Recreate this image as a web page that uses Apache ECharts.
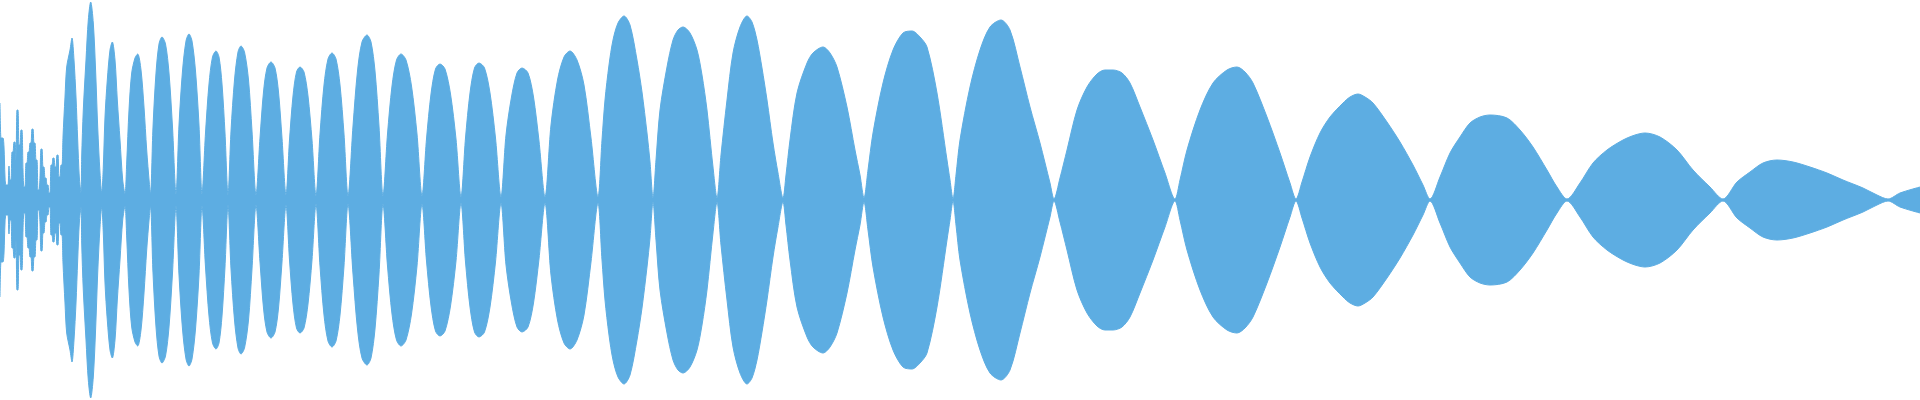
<!DOCTYPE html>
<html>
<head>
<meta charset="utf-8">
<script src="https://cdn.jsdelivr.net/npm/echarts@6/dist/echarts.min.js"></script>
<style>
  html, body { margin: 0; padding: 0; background: #ffffff; }
  #chart { width: 1920px; height: 400px; }
</style>
</head>
<body>
<div id="chart"></div>
<script>
// Waveform envelope: sample position and peak amplitude (symmetric about 0)
const onsetX = [0,1,2,3,4,5,6,7,8,9,10,11,12,13,14,15,16,17,18,19,20,21,22,23,24,25,26,27,28,29,30,31,32,33,34,35,36,37,38,39,40,41,42,43,44,45,46,47,48,49,50,51,52,53,54,55,56,57,58,59,60,61,62];
const onsetAmp = [97,62,62,62,53,23,15,15,15,34,20,20,48,48,58,58,40,90,90,55,55,70,70,30,13,13,37,37,48,48,57,57,71,71,57,57,40,40,10,10,23,51,51,33,33,22,22,15,15,7,7,35,35,42,42,33,33,45,45,23,23,35,35];

const denseX = [63,65,66.7,70,72,74,76,77.7,79.3,81,
  81.7,83.3,86,88.3,90.7,93.3,95.7,97.7,100,101.7,
  103.3,105,107.3,110,112.3,115,117.3,120,122.7,125,
  126.7,129,131.7,135,137.7,141,144,146.7,149.3,150.5,
  153,156,159,162,165.5,169,172.5,176,
  179,182.5,186,189,192,195.5,199,202,
  205.5,209,212.5,216,219,222,225,228,
  231,234.5,238,241,244.5,248.5,252,256,
  260,263.5,267,271,275,278.5,282,286,
  289.5,293,296.5,300,304,308,312,316,
  320,324,328,332,336,340,344,348,
  353,357.5,362,367,371,375,379,383,
  387.5,392,396.5,401,406,411.5,417,422,
  426.5,431,435.5,440,445,450.5,456,461,
  465.5,470,474.5,479,484.5,490,495.5,501,
  506,511.5,517,522,528,533.5,539,545,
  551,557.5,564,570,577,584,591,598];
const denseAmp = [63,103,133,150,162,140,103,60,23,7,
  43,90,140,180,198,177,127,73,27,7,
  33,83,120,150,158,140,100,60,20,6,
  37,90,127,142,146,130,93,50,17,6,
  73,127,156,163,156,127,73,6,
  75,129,159,166,159,129,75,6,
  67,116,143,149,143,116,67,5,
  69,120,148,154,148,120,69,5,
  62,108,132,138,132,108,62,5,
  60,104,128,133,128,104,60,4,
  66,115,141,147,141,115,66,4,
  74,129,158,165,158,129,74,4,
  66,114,140,146,140,114,66,4,
  61,106,131,136,131,106,61,3,
  62,107,132,137,132,107,62,3,
  65,103,127,132,127,103,59,3,
  75,120,143,149,140,115,62,3];

const slowX = [602,605,609,613,618,624,630,637,642,647,650,653,
  656,660,667,673,678,683,690,697,702,707,713,717,
  721,727,733,740,747,752,757,762,767,773,778,783,
  786,790,797,807,813,823,830,837,847,855,860,864,
  868,873,883,893,903,912,920,927,937,947,950,953,
  956,960,970,980,990,1001,1010,1020,1030,1040,1050,1054,
  1060,1067,1077,1087,1097,1105,1113,1122,1130,1140,1153,1165,1175,
  1180,1187,1200,1213,1227,1237,1245,1253,1267,1280,1290,1296,
  1302,1310,1320,1330,1343,1350,1358,1365,1373,1387,1400,1413,1423,1430,
  1440,1450,1460,1470,1480,1490,1507,1520,1533,1547,1557,1567,
  1580,1593,1607,1623,1635,1645,1660,1677,1693,1710,1723,
  1737,1750,1763,1777,1793,1810,1827,1843,1863,1877,1888,
  1900,1920];
const slowAmp = [60,100,135,160,177,184,175,140,108,67,38,2,
  40,90,133,160,170,173,167,150,125,90,33,2,
  45,100,147,173,184,178,160,132,100,57,27,2,
  25,60,107,137,147,153,147,133,93,50,25,2,
  30,67,117,150,167,169,163,153,107,40,20,1,
  25,60,113,150,173,180,170,133,93,57,17,1,
  22,50,90,113,126,130,130,127,117,93,60,27,1,
  20,50,90,117,130,133,128,117,83,47,17,1,
  18,43,67,83,97,103,106,103,97,78,58,35,15,1,
  23,47,63,77,83,85,82,70,53,30,13,1,
  17,37,50,60,65,67,63,50,30,13,1,
  18,28,37,40,38,33,27,20,12,5,1,
  7,13];

const waveColor = '#5dade2';

const xs = onsetX.concat(denseX, slowX);
const amps = onsetAmp.concat(denseAmp, slowAmp);
const upper = xs.map((x, i) => [x, amps[i]]);
const lower = xs.map((x, i) => [x, -amps[i]]);

const chart = echarts.init(document.getElementById('chart'), null, { renderer: 'canvas' });
chart.setOption({
  animation: false,
  backgroundColor: '#ffffff',
  grid: { left: 0, right: 0, top: 0, bottom: 0 },
  xAxis: { type: 'value', min: 0, max: 1920, show: false },
  yAxis: { type: 'value', min: -200, max: 200, show: false },
  series: [
    {
      type: 'line', data: upper, symbol: 'none', smooth: 0.3,
      lineStyle: { color: waveColor, width: 1 },
      areaStyle: { color: waveColor, opacity: 1 },
      silent: true
    },
    {
      type: 'line', data: lower, symbol: 'none', smooth: 0.3,
      lineStyle: { color: waveColor, width: 1 },
      areaStyle: { color: waveColor, opacity: 1 },
      silent: true
    }
  ]
});
</script>
</body>
</html>
